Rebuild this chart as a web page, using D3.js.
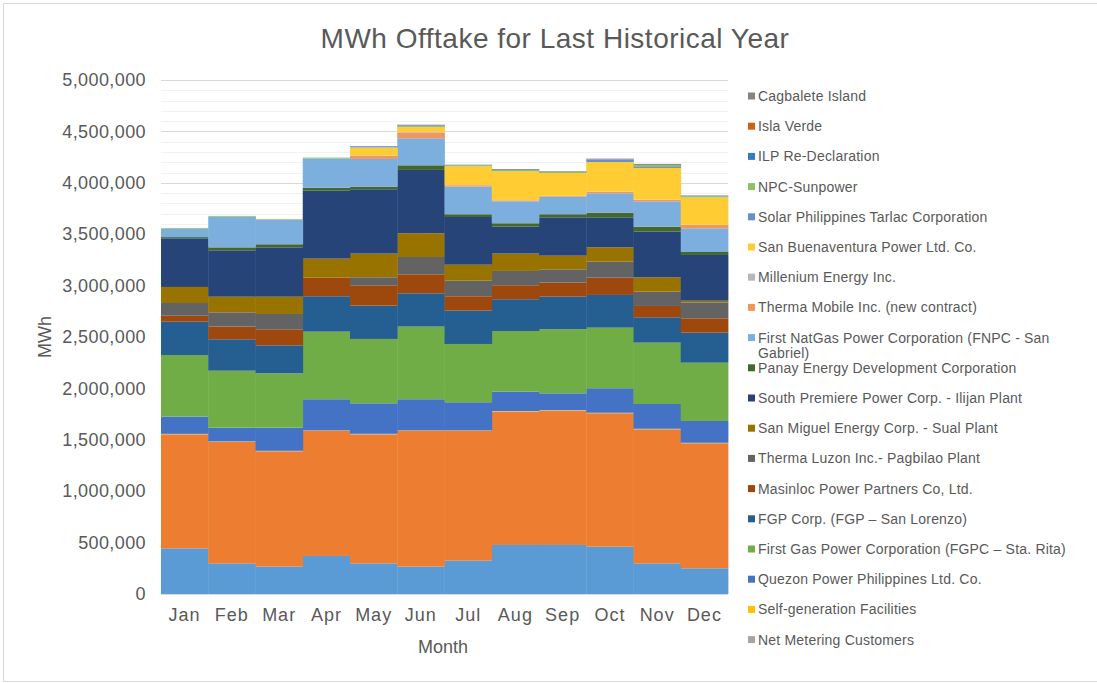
<!DOCTYPE html>
<html>
<head>
<meta charset="utf-8">
<script src="https://cdn.jsdelivr.net/npm/d3@7"></script>
<style>
  body { margin: 0; background: #fff; }
  text { font-family: "Liberation Sans", Arial, sans-serif; fill: #595959; }
</style>
</head>
<body>
<div id="chart"></div>
<script>
// Data section

var months = ["Jan", "Feb", "Mar", "Apr", "May", "Jun", "Jul", "Aug", "Sep", "Oct", "Nov", "Dec"];

var yTicks = [0, 500000, 1000000, 1500000, 2000000, 2500000, 3000000, 3500000, 4000000, 4500000, 5000000];

// two bottom series have no entry in the legend
var baseSeriesA = [444000, 298000, 266000, 370000, 298000, 266000, 324000, 477000, 477000, 460000, 298000, 250000];
var baseSeriesB = [1109000, 1181000, 1122000, 1216000, 1255000, 1320000, 1262000, 1297000, 1306000, 1298000, 1304000, 1216000];
var netMetering = [1800, 1900, 2100, 2200, 2300, 2300, 2200, 2400, 2300, 2200, 2100, 2000];
var selfGeneration = [3000, 3100, 2900, 3000, 2800, 2900, 3000, 3100, 3000, 2900, 3000, 3000];
var quezon = [167000, 134000, 225000, 303000, 297000, 303000, 274000, 189000, 164000, 238000, 241000, 212000];
var firstGasStaRita = [600000, 554000, 529000, 658000, 626000, 707000, 567000, 590000, 623000, 590000, 597000, 567000];
var fgpSanLorenzo = [324000, 306000, 272000, 344000, 324000, 324000, 324000, 309000, 317000, 318000, 247000, 292000];
var masinloc = [58000, 123000, 156000, 181000, 198000, 185000, 140000, 136000, 137000, 168000, 110000, 140000];
var thermaLuzon = [124000, 139000, 149000, 0, 78000, 168000, 152000, 139000, 129000, 156000, 139000, 152000];
var sanMiguelSual = [156000, 152000, 168000, 185000, 230000, 231000, 155000, 169000, 133000, 139000, 140000, 19000];
var southPremiere = [473000, 451000, 480000, 661000, 626000, 616000, 464000, 262000, 373000, 292000, 444000, 445000];
var panay = [12000, 29000, 30000, 29000, 26000, 45000, 27000, 33000, 30000, 46000, 48000, 29000];
var firstNatGas = [79000, 298000, 236000, 283000, 269000, 263000, 269000, 214000, 171000, 188000, 247000, 230000];
var thermaMobile = [0, 0, 0, 0, 32000, 55000, 13000, 8000, 6000, 13000, 13000, 33000];
var millenium = [0, 0, 0, 0, 2000, 8000, 2000, 2000, 2000, 2000, 2000, 2000];
var sanBuenaventura = [0, 0, 0, 0, 78000, 45000, 181000, 280000, 222000, 289000, 308000, 265000];
var solarTarlac = [0, 0, 0, 0, 8000, 0, 0, 0, 0, 25000, 10000, 0];
var npcSunpower = [8000, 8000, 7000, 10000, 0, 10000, 12000, 15000, 12000, 0, 20000, 12000];
var ilpRedeclaration = [0, 0, 0, 0, 5000, 5000, 0, 0, 0, 0, 0, 0];
var islaVerde = [0, 0, 0, 0, 0, 1000, 0, 1000, 0, 1000, 1000, 0];
var cagbalete = [0, 0, 0, 0, 0, 8000, 5000, 8000, 6000, 7000, 10000, 8000];

// stacking order, bottom first
var seriesNames = [
    "Base series A", "Base series B",
    "Net Metering Customers", "Self-generation Facilities", "Quezon Power Philippines Ltd. Co.",
    "First Gas Power  Corporation  (FGPC – Sta. Rita)", "FGP Corp. (FGP – San Lorenzo)",
    "Masinloc Power Partners Co, Ltd.", "Therma Luzon Inc.- Pagbilao Plant",
    "San Miguel Energy Corp. - Sual Plant", "South Premiere Power Corp. - Ilijan Plant",
    "Panay Energy Development Corporation", "First NatGas Power Corporation (FNPC - San Gabriel)",
    "Therma Mobile Inc. (new contract)", "Millenium Energy Inc.", "San Buenaventura Power Ltd. Co.",
    "Solar Philippines Tarlac Corporation", "NPC-Sunpower", "ILP Re-Declaration", "Isla Verde", "Cagbalete Island"
];
var seriesValues = [
    baseSeriesA, baseSeriesB, netMetering, selfGeneration, quezon, firstGasStaRita, fgpSanLorenzo,
    masinloc, thermaLuzon, sanMiguelSual, southPremiere, panay, firstNatGas, thermaMobile,
    millenium, sanBuenaventura, solarTarlac, npcSunpower, ilpRedeclaration, islaVerde, cagbalete
];
var seriesColors = [
    "#5B9BD5", "#ED7D31", "#A5A5A5", "#FFC000", "#4472C4", "#70AD47", "#255E91", "#9E480E",
    "#636363", "#997300", "#264478", "#43682B", "#7CAFDD", "#F1975A", "#B7B7B7", "#FFCD33",
    "#698ED0", "#8CC168", "#327DC2", "#D26012", "#848484"
];
var hiddenFromLegend = ["Base series A", "Base series B"];

// build rows for d3.stack
var rows = months.map(function(m, i) {
    var row = { month: m };
    seriesNames.forEach(function(name, j) { row[name] = seriesValues[j][i]; });
    return row;
});

// Graph space section

var width = 1097;
var height = 683;

var plotLeft = 161;
var plotRight = 728;
var plotTop = 80;
var plotBottom = 594;

var svg = d3
    .select("#chart")
    .append("svg")
    .attr("width", width)
    .attr("height", height);

// chart frame
svg.append("rect")
    .attr("x", 3.5)
    .attr("y", 3.5)
    .attr("width", width + 10)
    .attr("height", 678)
    .attr("fill", "#fff")
    .attr("stroke", "#D9D9D9");

var x = d3.scaleBand()
    .domain(months)
    .range([plotLeft, plotRight])
    .paddingInner(0)
    .paddingOuter(0);

var y = d3.scaleLinear()
    .domain([0, 5000000])
    .range([plotBottom, plotTop]);

// gridlines every 100,000, darker at the labelled ticks
svg.append("g")
    .selectAll("line")
    .data(d3.range(100000, 5000001, 100000))
    .join("line")
    .attr("x1", plotLeft)
    .attr("x2", plotRight)
    .attr("y1", function(d) { return Math.round(y(d)) + 0.5; })
    .attr("y2", function(d) { return Math.round(y(d)) + 0.5; })
    .attr("stroke", function(d) { return d % 500000 === 0 ? "#D9D9D9" : "#F2F2F2"; })
    .attr("stroke-width", 1);

// stacked columns with no gap
var stacked = d3.stack().keys(seriesNames)(rows);

svg.append("g")
    .selectAll("g")
    .data(stacked)
    .join("g")
    .attr("fill", function(d, i) { return seriesColors[i]; })
    .selectAll("rect")
    .data(function(d) { return d; })
    .join("rect")
    .attr("x", function(d) { return x(d.data.month); })
    .attr("width", x.bandwidth() + 0.4)
    .attr("y", function(d) { return y(d[1]); })
    .attr("height", function(d) { return y(d[0]) - y(d[1]); });

// bottom axis line
svg.append("line")
    .attr("x1", plotLeft)
    .attr("x2", plotRight)
    .attr("y1", plotBottom + 0.5)
    .attr("y2", plotBottom + 0.5)
    .attr("stroke", "#D9D9D9");

// y axis labels
var yAxis = d3.axisLeft(y)
    .tickValues(yTicks)
    .tickFormat(d3.format(","))
    .tickSize(0)
    .tickPadding(0);

var yG = svg.append("g")
    .attr("transform", "translate(146,0)")
    .call(yAxis);
yG.select(".domain").remove();
yG.selectAll("text")
    .style("font-family", "'Liberation Sans', Arial, sans-serif")
    .style("font-size", "18px")
    .style("letter-spacing", "0.4px")
    .attr("fill", "#595959");

// x axis labels
var xAxis = d3.axisBottom(x).tickSize(0).tickPadding(0);
var xG = svg.append("g")
    .attr("transform", "translate(0," + (plotBottom + 14) + ")")
    .call(xAxis);
xG.select(".domain").remove();
xG.selectAll("text")
    .style("font-family", "'Liberation Sans', Arial, sans-serif")
    .style("font-size", "18px")
    .style("letter-spacing", "1px")
    .attr("fill", "#595959");

// titles
svg.append("text")
    .attr("x", 555)
    .attr("y", 48)
    .attr("text-anchor", "middle")
    .style("font-size", "28px")
    .style("letter-spacing", "0.5px")
    .text("MWh Offtake for Last Historical Year");

svg.append("text")
    .attr("x", 443)
    .attr("y", 653)
    .attr("text-anchor", "middle")
    .style("font-size", "18px")
    .text("Month");

svg.append("text")
    .attr("transform", "translate(51,337) rotate(-90)")
    .attr("text-anchor", "middle")
    .style("font-size", "18px")
    .text("MWh");

// legend, top entry is the top of the stack
var legendItems = seriesNames
    .map(function(name, i) { return { name: name, color: seriesColors[i] }; })
    .filter(function(d) { return hiddenFromLegend.indexOf(d.name) < 0; })
    .reverse();

var legend = svg.append("g").attr("class", "legend");

var item = legend.selectAll("g")
    .data(legendItems)
    .join("g")
    .attr("transform", function(d, i) { return "translate(748," + (96 + i * 30.2) + ")"; });

item.append("rect")
    .attr("x", 0)
    .attr("y", -3.5)
    .attr("width", 7)
    .attr("height", 7)
    .attr("fill", function(d) { return d.color; });

item.append("text")
    .attr("x", 10)
    .attr("y", 5)
    .style("font-size", "14px")
    .style("letter-spacing", "0.2px")
    .each(function(d) {
        var t = d3.select(this);
        // the long First NatGas label wraps onto a second line
        if (d.name.indexOf("San Gabriel") > 0) {
            t.append("tspan").attr("x", 10).text("First NatGas Power Corporation (FNPC - San");
            t.append("tspan").attr("x", 10).attr("dy", 15).text("Gabriel)");
        } else {
            t.text(d.name);
        }
    });
</script>
</body>
</html>
